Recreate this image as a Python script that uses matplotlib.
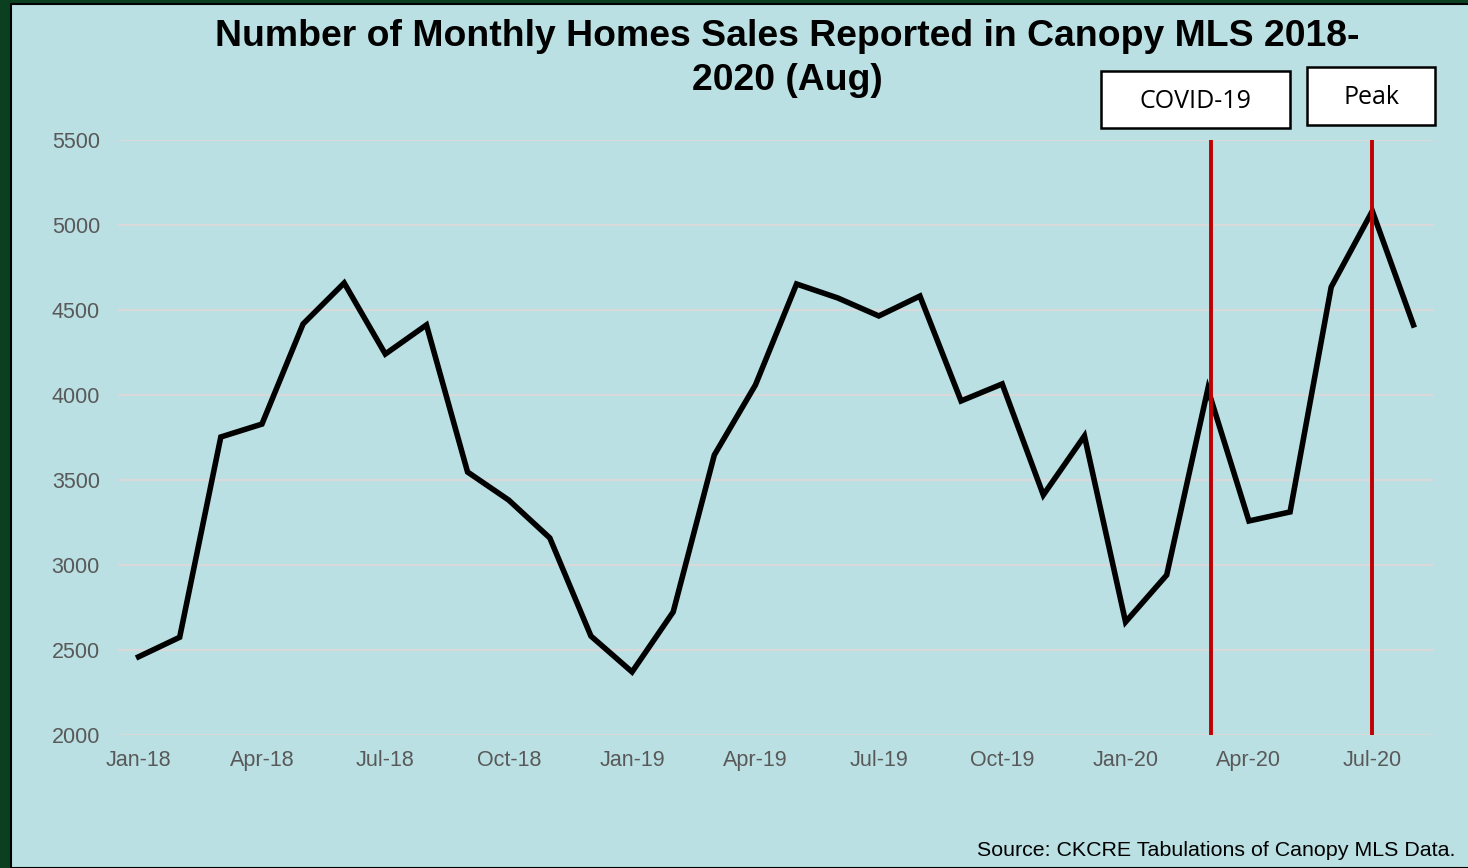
import matplotlib
matplotlib.use("Agg")
import matplotlib.pyplot as plt
from matplotlib.patches import Rectangle

months = ["Jan-18","Feb-18","Mar-18","Apr-18","May-18","Jun-18","Jul-18","Aug-18",
          "Sep-18","Oct-18","Nov-18","Dec-18","Jan-19","Feb-19","Mar-19","Apr-19",
          "May-19","Jun-19","Jul-19","Aug-19","Sep-19","Oct-19","Nov-19","Dec-19",
          "Jan-20","Feb-20","Mar-20","Apr-20","May-20","Jun-20","Jul-20","Aug-20"]
sales = [2460, 2575, 3753, 3829, 4418, 4659, 4241, 4412,
         3547, 3382, 3159, 2582, 2371, 2724, 3647, 4059,
         4653, 4571, 4465, 4582, 3965, 4065, 3412, 3759,
         2665, 2941, 4035, 3259, 3312, 4635, 5082, 4412]
yticks = [2000, 2500, 3000, 3500, 4000, 4500, 5000, 5500]
title_lines = ["Number of Monthly Homes Sales Reported in Canopy MLS 2018-", "2020 (Aug)"]
covid_pos = 26.07   # just after Mar-20
peak_pos = 30       # Jul-20

W, H = 1468, 868
fig = plt.figure(figsize=(W/100, H/100), dpi=100)
fig.patch.set_facecolor("#0A4020")
bg = "#BAE0E3"
fig.patches.append(Rectangle((11/W, 0), 1.0, 1 - 4/H, transform=fig.transFigure,
                             facecolor=bg, edgecolor="black", linewidth=1.5, zorder=-5))

ax = fig.add_axes([118/W, 1 - 735/H, (1434-118)/W, (735-140)/H])
ax.set_zorder(1)
ax.patch.set_alpha(0)
x = list(range(len(months)))
ax.plot(x, sales, color="black", linewidth=4.0, solid_joinstyle="miter", zorder=3)
ax.axvline(covid_pos, color="#C00000", linewidth=2.8, zorder=4)
ax.axvline(peak_pos, color="#C00000", linewidth=2.8, zorder=4)

ax.set_xlim(-0.5, len(months) - 0.5)
ax.set_ylim(2000, 5500)
ax.set_yticks(yticks)
ax.set_yticklabels([str(v) for v in yticks])
ax.set_xticks(x[::3])
ax.set_xticklabels(months[::3])
ax.grid(axis="y", color="#D9D9D9", linewidth=1.5, zorder=1)
ax.set_axisbelow(True)
for s in ax.spines.values():
    s.set_visible(False)
ax.tick_params(axis="both", length=0, labelcolor="#595959", labelsize=15.5)
ax.tick_params(axis="y", pad=13)
ax.tick_params(axis="x", pad=11)
for lab in ax.get_xticklabels() + ax.get_yticklabels():
    lab.set_fontfamily("Liberation Sans")

for yy, line in zip([36, 80], title_lines):
    fig.text(787/W, 1 - yy/H, line, ha="center", va="center", fontsize=26.9,
             fontweight="bold", family="Liberation Sans", zorder=2)

def box(x0, y0, x1, y1, label):
    fig.patches.append(Rectangle((x0/W, 1 - y1/H), (x1-x0)/W, (y1-y0)/H,
                                 transform=fig.transFigure, facecolor="white",
                                 edgecolor="black", linewidth=1.8, zorder=5))
    fig.text((x0+x1)/2/W, 1 - ((y0+y1)/2 + 2)/H, label, ha="center", va="center",
             fontsize=18, family="Open Sans", zorder=6)

box(1101, 71, 1290, 128, "COVID-19")
box(1307, 67, 1435, 125, "Peak")

fig.text(1455/W, 1 - 851/H, "Source: CKCRE Tabulations of Canopy MLS Data.",
         ha="right", va="center", fontsize=15.4, family="Liberation Sans", zorder=2)

fig.savefig("out.png", dpi=100, facecolor=fig.get_facecolor())
